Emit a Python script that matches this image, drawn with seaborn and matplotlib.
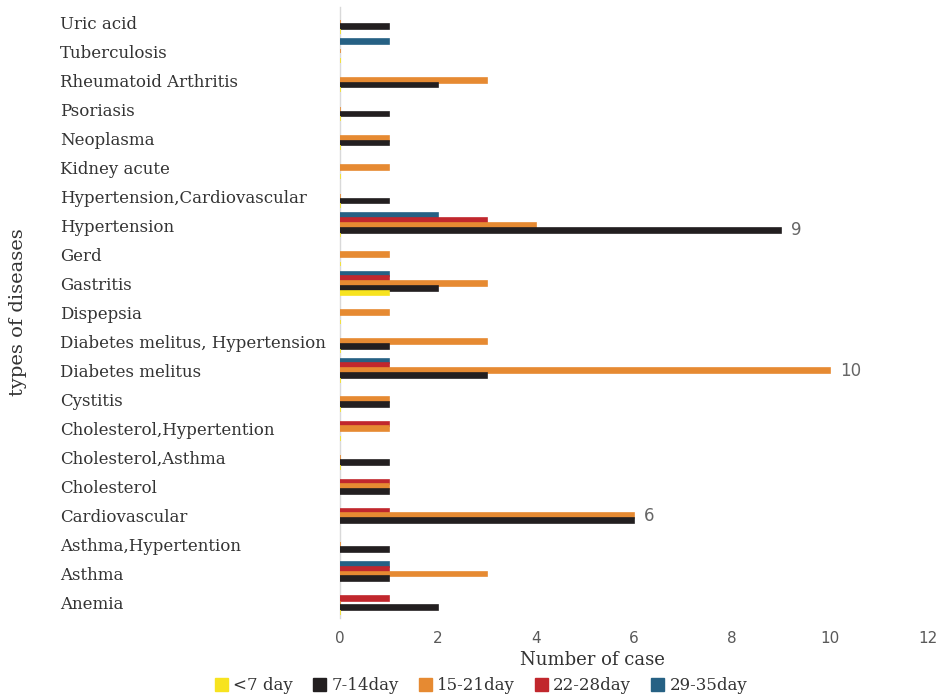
import numpy as np
import pandas as pd
import matplotlib
matplotlib.use("Agg")
import matplotlib.pyplot as plt
import seaborn as sns
from matplotlib.patches import Patch

# Diseases, listed top to bottom
diseases = [
    "Uric acid", "Tuberculosis", "Rheumatoid Arthritis", "Psoriasis", "Neoplasma",
    "Kidney acute", "Hypertension,Cardiovascular", "Hypertension", "Gerd", "Gastritis",
    "Dispepsia", "Diabetes melitus, Hypertension", "Diabetes melitus", "Cystitis",
    "Cholesterol,Hypertention", "Cholesterol,Asthma", "Cholesterol", "Cardiovascular",
    "Asthma,Hypertention", "Asthma", "Anemia",
]

series_names = ["<7 day", "7-14day", "15-21day", "22-28day", "29-35day"]
series_colors = ["#F7E31F", "#231F20", "#E68A32", "#C1272D", "#266184"]

nan = np.nan
# number of cases per duration band (nan = no entry)
lt7_day = [0, 0, 0, 0, 0, 0, 0, 0, 0, 1, 0, 0, 0, 0, 0, 0, nan, nan, nan, nan, 0]
d7_14 = [1, nan, 2, 1, 1, nan, 1, 9, nan, 2, nan, 1, 3, 1, nan, 1, 1, 6, 1, 1, 2]
d15_21 = [0, 0, 3, 0, 1, 1, 0, 4, 1, 3, 1, 3, 10, 1, 1, 0, 1, 6, 0, 3, 0]
d22_28 = [nan, nan, nan, nan, nan, nan, nan, 3, nan, 1, nan, nan, 1, nan, 1, nan, 1, 1, nan, 1, 1]
d29_35 = [nan, 1, nan, nan, nan, nan, nan, 2, nan, 1, nan, nan, 1, nan, nan, nan, nan, nan, nan, 1, nan]

# which bars carry a value label
labelled = {("Hypertension", "7-14day"), ("Diabetes melitus", "15-21day"),
            ("Cardiovascular", "15-21day")}

frames = []
for name, vals in zip(series_names, [lt7_day, d7_14, d15_21, d22_28, d29_35]):
    frames.append(pd.DataFrame({"disease": diseases, "duration": name, "cases": vals}))
df = pd.concat(frames, ignore_index=True)

sns.set_theme(style="white")
plt.rcParams["font.family"] = ["DejaVu Serif"]

fig = plt.figure(figsize=(9.47, 7.0), dpi=100)
ax = fig.add_axes([340 / 947, 1 - 617.5 / 700, 588 / 947, 610 / 700])

# last duration band sits on top within each group
hue_order = series_names[::-1]
palette = dict(zip(series_names, series_colors))
sns.barplot(data=df, x="cases", y="disease", hue="duration", order=diseases,
            hue_order=hue_order, palette=palette, orient="h", width=0.82,
            errorbar=None, ax=ax, legend=False, saturation=1)

for p in ax.patches:
    p.set_edgecolor(p.get_facecolor())
    p.set_linewidth(1.2)
    p.set_zorder(3)

# value labels on the longest bars
for cont, name in zip(ax.containers, hue_order):
    for p in cont:
        w = p.get_width()
        if np.isnan(w):
            continue
        yc = p.get_y() + p.get_height() / 2
        cat = diseases[int(round(yc))]
        if (cat, name) in labelled:
            ax.text(w + 0.2, yc, f"{w:g}", va="center", ha="left",
                    fontsize=12, color="#666666", family="DejaVu Sans")

ax.set_xlim(0, 12)
ax.set_ylim(20.5, -0.5)
ax.set_xticks(range(0, 13, 2))
ax.set_xticklabels([str(v) for v in range(0, 13, 2)], family="DejaVu Sans",
                   fontsize=11, color="#595959")

ax.tick_params(axis="y", length=0, pad=201.6)
for t in ax.get_yticklabels():
    t.set_ha("left")
    t.set_fontsize(12)
    t.set_color("#333333")
ax.tick_params(axis="x", length=0, pad=10)

for s in ["top", "right", "bottom"]:
    ax.spines[s].set_visible(False)
ax.spines["left"].set_color("#D9D9D9")
ax.spines["left"].set_linewidth(1.0)
ax.spines["left"].set_zorder(1)
ax.grid(False)

ax.set_xlabel("Number of case", fontsize=13, color="#333333")
ax.xaxis.set_label_coords((592 - 340) / 588, -0.055)
ax.set_ylabel("types of diseases", fontsize=14, color="#333333")
ax.yaxis.set_label_coords(-(340 - 27) / 588, 0.5)

handles = [Patch(facecolor=c, edgecolor=c, label=n) for n, c in zip(series_names, series_colors)]
fig.legend(handles=handles, loc="center", bbox_to_anchor=(481 / 947, 1 - 686 / 700),
           ncol=5, frameon=False, fontsize=12, handlelength=0.8, handleheight=0.8,
           handletextpad=0.3, columnspacing=1.2, labelcolor="#333333")

fig.savefig("out.png", dpi=100)
